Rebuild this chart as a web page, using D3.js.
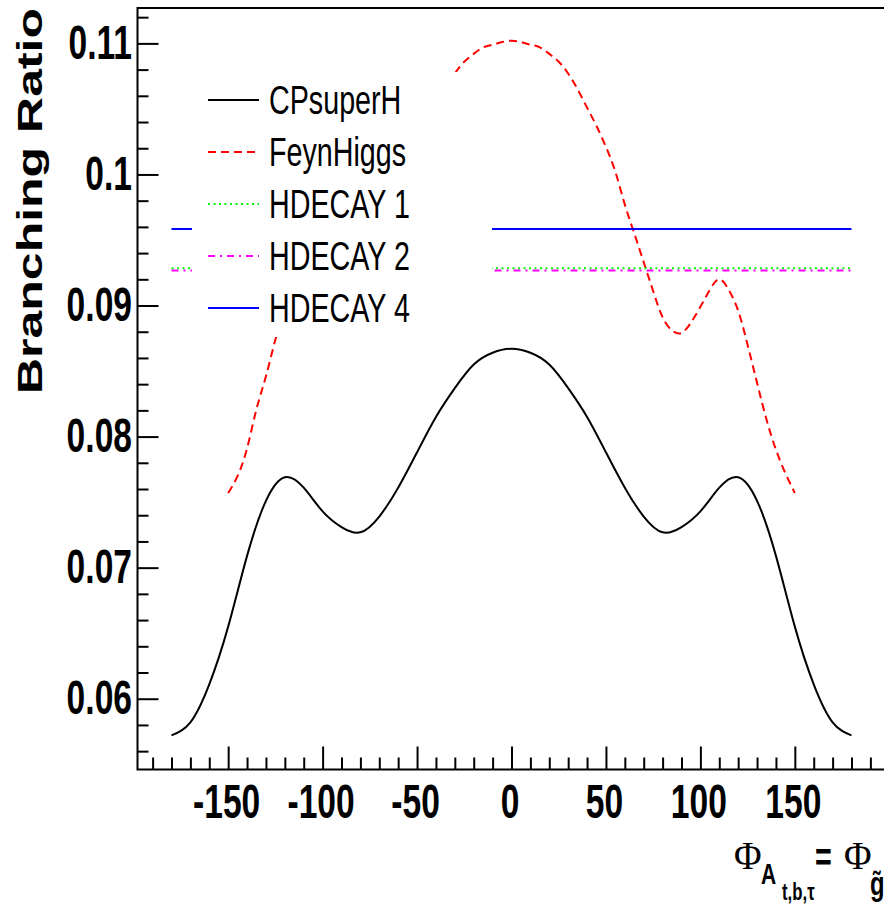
<!DOCTYPE html>
<html>
<head>
<meta charset="utf-8">
<script src="https://cdn.jsdelivr.net/npm/d3@7"></script>
<style>
  body { margin: 0; background: #fff; }
  svg { display: block; }
  text { font-family: "Liberation Sans", Arial, sans-serif; }
</style>
</head>
<body>
<script>
// CPsuperH curve
const cpPhase = [-180,-170,-160,-150,-140,-130,-120,-110,-100,-90,-80,-70,-60,-50,-40,-30,-20,-10,
  0,10,20,30,40,50,60,70,80,90,100,110,120,130,140,150,160,170,180];
const cpBR = [0.0572,0.0582,0.0611,0.0655,0.0709,0.0751,0.0769,0.0761,0.0743,0.0731,0.0727,0.0739,0.0761,0.0788,0.0815,0.0837,0.0855,0.0864,
  0.0867,0.0864,0.0855,0.0837,0.0815,0.0788,0.0761,0.0739,0.0727,0.0731,0.0743,0.0761,0.0769,0.0751,0.0709,0.0655,0.0611,0.0582,0.0572];

// FeynHiggs curve
const fhPhase = [-150,-145,-140,-135,-130,-125,-120,-115,-110,-105,-100,-95,-90,-85,-80,-75,-70,-65,-60,-55,-50,-45,-40,-35,-30,-25,-20,-15,-10,-5,
  0,5,10,15,20,25,30,35,40,45,50,55,60,65,70,75,80,85,90,95,100,105,110,115,120,125,130,135,140,145,150];
const fhBR = [0.0757,0.0770,0.0791,0.0821,0.0846,0.0874,0.0896,0.0912,0.0920,0.0912,0.0899,0.0887,0.0879,0.0881,0.0891,0.0911,0.0933,0.0955,0.0977,0.1002,0.1021,0.1037,0.1051,0.1065,0.1077,0.1086,0.1092,0.1097,0.1099,0.1101,
  0.1102,0.1101,0.1099,0.1097,0.1092,0.1086,0.1077,0.1065,0.1051,0.1037,0.1021,0.1002,0.0977,0.0955,0.0933,0.0911,0.0891,0.0881,0.0879,0.0887,0.0899,0.0912,0.0920,0.0912,0.0896,0.0870,0.0841,0.0813,0.0790,0.0772,0.0757];

// HDECAY constants
const hdPhase = [-180, 180];
const hd1BR = [0.09285, 0.09285];
const hd2BR = [0.09267, 0.09267];
const hd4BR = [0.09583, 0.09583];

const xTicks = [-150,-100,-50,0,50,100,150];
const xTickLabels = ["-150","-100","-50","0","50","100","150"];
const yTicks = [0.06,0.07,0.08,0.09,0.1,0.11];
const yTickLabels = ["0.06","0.07","0.08","0.09","0.1","0.11"];

const legendNames = ["CPsuperH","FeynHiggs","HDECAY 1","HDECAY 2","HDECAY 4"];

const W = 884, H = 904;
const SQ = 0.7; // horizontal squash of the text

const svg = d3.select("body").append("svg")
  .attr("width", W).attr("height", H);

const x = d3.scaleLinear().domain([-198, 198]).range([137.5, 885.5]);
const y = d3.scaleLinear().domain([0.0546, 0.1127]).range([769.5, 8]);

const line = d3.line().curve(d3.curveNatural);

const series = [
  { name: legendNames[0], px: cpPhase, py: cpBR, color: "#000", dash: null },
  { name: legendNames[1], px: fhPhase, py: fhBR, color: "#ff0000", dash: "8,5" },
  { name: legendNames[2], px: hdPhase, py: hd1BR, color: "#00ff00", dash: "2,3.5" },
  { name: legendNames[3], px: hdPhase, py: hd2BR, color: "#ff00ff", dash: "7,5,2,5" },
  { name: legendNames[4], px: hdPhase, py: hd4BR, color: "#0000ff", dash: null },
];

// curves
series.forEach(s => {
  const pts = s.px.map((v, i) => [x(v), y(s.py[i])]);
  svg.append("path")
    .attr("d", line(pts))
    .attr("fill", "none")
    .attr("stroke", s.color)
    .attr("stroke-width", 2)
    .attr("stroke-dasharray", s.dash);
});

// axes
const xMinor = d3.range(-190, 191, 10).filter(v => v % 50 !== 0);
const yMinor = d3.range(0.056, 0.1125, 0.002).filter(v => Math.abs(v * 100 - Math.round(v * 100)) > 1e-6);

const gx = svg.append("g").attr("transform", `translate(0,${y.range()[0]})`);
gx.call(d3.axisBottom(x).tickValues(xMinor).tickSize(-12).tickSizeOuter(0).tickFormat(""));
gx.call(g => g.append("g").call(d3.axisBottom(x).tickValues(xTicks).tickSize(-23).tickSizeOuter(0).tickFormat("")));
gx.selectAll(".domain").remove();
gx.selectAll("line").attr("stroke", "#000").attr("stroke-width", 2);

const gy = svg.append("g").attr("transform", `translate(${x.range()[0]},0)`);
gy.call(d3.axisLeft(y).tickValues(yMinor).tickSize(-11).tickSizeOuter(0).tickFormat(""));
gy.call(g => g.append("g").call(d3.axisLeft(y).tickValues(yTicks).tickSize(-21).tickSizeOuter(0).tickFormat("")));
gy.selectAll(".domain").remove();
gy.selectAll("line").attr("stroke", "#000").attr("stroke-width", 2);

// frame
svg.append("path")
  .attr("d", `M${x.range()[0]},${y.range()[1]}H${x.range()[1]}V${y.range()[0]}H${x.range()[0]}Z`)
  .attr("fill", "none").attr("stroke", "#000").attr("stroke-width", 2);

// tick labels
svg.append("g").selectAll("text").data(xTicks).join("text")
  .attr("transform", d => `translate(${x(d) - 1.5},818) scale(${SQ},1)`)
  .attr("text-anchor", "middle")
  .attr("font-size", 48).attr("font-weight", "bold")
  .text((d, i) => xTickLabels[i]);

svg.append("g").selectAll("text").data(yTicks).join("text")
  .attr("transform", d => `translate(132,${y(d) + 15.5}) scale(${SQ},1)`)
  .attr("text-anchor", "end")
  .attr("font-size", 48).attr("font-weight", "bold")
  .text((d, i) => yTickLabels[i]);

// y title
svg.append("text")
  .attr("transform", `translate(42,8) scale(${SQ},1) rotate(-90)`)
  .attr("text-anchor", "end")
  .attr("font-size", 50).attr("font-weight", "bold")
  .text("Branching Ratio");

// x title
const xt = svg.append("g");
const piece = (tx, ty, txt, size, bold, family, sx) =>
  xt.append("text")
    .attr("transform", `translate(${tx},${ty}) scale(${sx || SQ},1)`)
    .attr("font-size", size)
    .attr("font-weight", bold ? "bold" : "normal")
    .style("font-family", family || null)
    .text(txt);
piece(734, 869, "\u03A6", 41, false, "'Liberation Serif', serif", 0.92);
piece(761, 884, "A", 30, true);
piece(782, 900, "t,b,\u03C4", 24, true);
piece(815, 871, "=", 41, true);
piece(844, 869, "\u03A6", 41, false, "'Liberation Serif', serif", 0.92);
piece(870, 895, "g\u0303", 34, true);

// legend
const lg = svg.append("g");
lg.append("rect").attr("x", 192).attr("y", 72).attr("width", 300).attr("height", 265).attr("fill", "#fff");
series.forEach((s, i) => {
  const cy = 100 + i * 52;
  lg.append("line")
    .attr("x1", 208).attr("x2", 259).attr("y1", cy).attr("y2", cy)
    .attr("stroke", s.color).attr("stroke-width", 2)
    .attr("stroke-dasharray", s.dash);
  lg.append("text")
    .attr("transform", `translate(269,${cy + 13.5}) scale(${SQ},1)`)
    .attr("font-size", 41)
    .text(s.name);
});
</script>
</body>
</html>
